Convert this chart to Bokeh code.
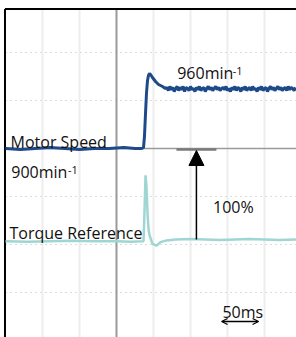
from bokeh.plotting import figure
from bokeh.models import Range1d, Arrow, NormalHead, OpenHead, ColumnDataSource
from bokeh.core.properties import value
from bokeh.embed import file_html
from bokeh.resources import INLINE

# ---- data (time in ms, speed in min-1, torque in %) ----
grid_t = [-100, -50, 50, 100, 150, 200]
grid_speed = [996, 948, 852, 804, 756]

speed_t = [-150, -130, -110, -90, -70, -50, -30, -10, 10, 25, 34, 36.5,
           37.8, 39.2, 40.5, 41.9, 43.2, 44.6, 46, 48.6, 52.7, 56.8, 62.2, 66,
           68, 70, 72, 74, 76, 78, 80, 82, 84, 86, 88, 90, 92, 94, 96, 98,
           100, 102, 104, 106, 108, 110, 112, 114, 116, 118, 120, 122, 124, 126,
           128, 130, 132, 134, 136, 138, 140, 142, 144, 146, 148, 150, 152, 154,
           156, 158, 160, 162, 164, 166, 168, 170, 172, 174, 176, 178, 180, 182,
           184, 186, 188, 190, 192, 194, 196, 198, 200, 202, 204, 206, 208, 210,
           212, 214, 216, 218, 220, 222, 224, 226, 228, 230, 232, 234, 236, 238,
           240, 242, 244]
speed_v = [900, 899, 900, 901, 900, 899, 900, 900, 901, 900, 900, 901,
           912, 935, 955, 968, 973, 975, 974, 971, 967, 964, 962, 960,
           961, 958, 962, 959, 961, 957, 960, 962, 958, 961,
           959, 962, 957, 961, 960, 958, 962, 959, 960, 957,
           961, 959, 962, 958, 960, 961, 957, 960, 962, 959,
           961, 958, 960, 962, 959, 961, 958, 960, 961, 959,
           962, 958, 960, 957, 961, 959, 962, 958, 961, 960,
           957, 961, 959, 962, 958, 960, 961, 958, 962, 959,
           960, 957, 961, 959, 962, 958, 960, 961, 957, 960,
           962, 959, 961, 958, 960, 962, 959, 961, 958, 960,
           961, 958, 962, 959, 961, 960, 958, 961]

torque_t = [-150, -120, -90, -60, -30, 0, 20, 35, 36.5, 37.8, 39.2, 40.5,
            41.9, 43.2, 44.6, 48.6, 54, 59.5, 67.6, 80, 100, 120, 140, 160,
            180, 200, 220, 244]
torque_v = [-2, -2.5, -2, -1.5, -2, -2, -2.5, -2, -2, 30, 72, 60,
            30, 12, 5, -5, -7, -3, -1, 0, 0.5, 0, -0.5, 0,
            0.5, 0, -0.5, 0]

center_t = 0
center_speed = 900
border_left_t = -150.7
border_top_speed = 1039.5
ref_bar_t = [81, 135]
ref_bar_speed = 899
arrow_t = 108
torque_step = [0, 100]
scale_t = [142, 192]
scale_speed = 727

label_text = ["Motor Speed", "900min", "960min", "Torque Reference", "100%", "50ms"]
label_t = [-143.2, -142.2, 82, -144.6, 130.5, 143.2]
label_speed = [906.5, 876.5, 975.7, 816, 842, 737]
sup_text = ["-1", "-1"]
sup_t = [-65.5, 157]
sup_speed = [879, 978]

# ---- figure ----
T0, T1 = -156.76, 243.24
S0, S1 = 711, 1048
p = figure(width=296, height=337, output_backend="svg", toolbar_location=None,
           x_range=Range1d(T0, T1), y_range=Range1d(S0, S1), min_border=0)
p.extra_y_ranges = {"torque": Range1d(-110.1, 268.5)}
p.axis.visible = False
p.grid.visible = False
p.outline_line_color = None
p.background_fill_color = "white"
p.border_fill_color = "white"

# grid
n = len(grid_t)
p.segment(x0=grid_t, y0=[border_top_speed] * n, x1=grid_t, y1=[S0] * n,
          line_color="#eeeeee", line_width=2)
m = len(grid_speed)
p.segment(x0=[border_left_t] * m, y0=grid_speed, x1=[T1] * m, y1=grid_speed,
          line_color="#dcdcdc", line_width=1.2, line_dash="2 3")
p.segment(x0=[center_t], y0=[border_top_speed], x1=[center_t], y1=[S0],
          line_color="#9a9a9a", line_width=2)
p.segment(x0=[border_left_t], y0=[center_speed], x1=[T1], y1=[center_speed],
          line_color="#9a9a9a", line_width=1.5)

# frame borders (left, top)
p.segment(x0=[border_left_t, border_left_t], y0=[border_top_speed, border_top_speed],
          x1=[border_left_t, T1], y1=[S0, border_top_speed],
          line_color="black", line_width=2)

# traces
p.line(torque_t, torque_v, y_range_name="torque", line_color="#9fd6d3", line_width=2.5)
p.line(speed_t, speed_v, line_color="#1f4a8a", line_width=3)

# reference bar
p.line(ref_bar_t, [ref_bar_speed, ref_bar_speed], line_color="#7a7a7a", line_width=2.5)

# 100% arrow
p.add_layout(Arrow(end=NormalHead(size=15, fill_color="black", line_color="black", line_width=1),
                   x_start=arrow_t, y_start=torque_step[0], x_end=arrow_t, y_end=torque_step[1],
                   y_range_name="torque", line_color="black", line_width=1.5))

# 50ms double arrow
p.add_layout(Arrow(start=OpenHead(size=6, line_width=1.3, line_color="black"),
                   end=OpenHead(size=6, line_width=1.3, line_color="black"),
                   x_start=scale_t[0], y_start=scale_speed, x_end=scale_t[1], y_end=scale_speed,
                   line_color="black", line_width=1.3))

# labels
src = ColumnDataSource(dict(x=label_t, y=label_speed, text=label_text))
p.text(x="x", y="y", text="text", source=src, text_font=value("Open Sans"),
       text_font_size=value("16px"), text_color="#111111",
       text_baseline="alphabetic", text_align="left")
src2 = ColumnDataSource(dict(x=sup_t, y=sup_speed, text=sup_text))
p.text(x="x", y="y", text="text", source=src2, text_font=value("Open Sans"),
       text_font_size=value("11px"), text_color="#111111",
       text_baseline="alphabetic", text_align="left")

open("out.html", "w").write(file_html(p, INLINE))
